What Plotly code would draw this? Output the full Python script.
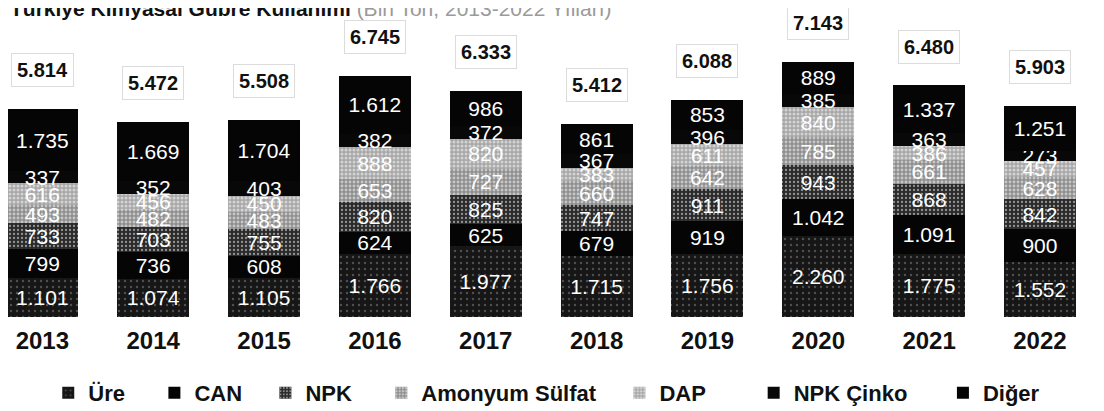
import plotly.graph_objects as go

# data (bin ton)
years = [2013, 2014, 2015, 2016, 2017, 2018, 2019, 2020, 2021, 2022]
ure = [1101, 1074, 1105, 1766, 1977, 1715, 1756, 2260, 1775, 1552]
can = [799, 736, 608, 624, 625, 679, 919, 1042, 1091, 900]
npk = [733, 703, 755, 820, 825, 747, 911, 943, 868, 842]
amonyum_sulfat = [493, 482, 483, 653, 727, 660, 642, 785, 661, 628]
dap = [616, 456, 450, 888, 820, 383, 611, 840, 386, 457]
npk_cinko = [337, 352, 403, 382, 372, 367, 396, 385, 363, 273]
diger = [1735, 1669, 1704, 1612, 986, 861, 853, 889, 1337, 1251]
totals = [5814, 5472, 5508, 6745, 6333, 5412, 6088, 7143, 6480, 5903]

# name, values, colour, texture, extra legend spacing
series = [
    ("Üre", ure, "#161616", dict(shape=".", fgcolor="#8a8a8a", size=6, solidity=0.12), 4),
    ("CAN", can, "#050505", None, 3),
    ("NPK", npk, "#2a2a2a", dict(shape=".", fgcolor="#ffffff", size=4, solidity=0.25), 4),
    ("Amonyum Sülfat", amonyum_sulfat, "#8e8e8e", dict(shape=".", fgcolor="#ffffff", size=4, solidity=0.4), 3),
    ("DAP", dap, "#a6a6a6", dict(shape=".", fgcolor="#ffffff", size=4, solidity=0.45), 7),
    ("NPK Çinko", npk_cinko, "#080808", None, 5),
    ("Diğer", diger, "#050505", None, 0),
]

sans = "Liberation Sans, Arial, sans-serif"

fig = go.Figure()

for name, vals, color, pattern, pad in series:
    marker = dict(color=color, line=dict(width=0))
    if pattern:
        marker["pattern"] = pattern
    fig.add_trace(go.Bar(
        x=years, y=vals, name=name + "\u00a0" * pad,
        marker=marker,
        width=0.65,
        texttemplate="%{y:,.0f}",
        textposition="inside",
        insidetextanchor="middle",
        textangle=0,
        textfont=dict(color="white", size=21, family=sans),
        cliponaxis=False,
    ))

# totals above each bar in a light box
for yr, tot in zip(years, totals):
    fig.add_annotation(
        x=yr, y=tot, yshift=39, yanchor="middle",
        text=f"{tot:,}".replace(",", "."),
        showarrow=False,
        font=dict(size=20, family=sans, color="#111", weight="bold"),
        bordercolor="#dcdcdc", borderwidth=1, borderpad=5,
    )

# title (partly cut off at the top in the original)
fig.add_annotation(
    x=0, xref="paper", xanchor="left",
    y=1, yref="paper", yanchor="bottom", yshift=-14,
    text="<b>Türkiye Kimyasal Gübre Kullanımı</b> <span style='color:#9a9a9a'>(Bin Ton, 2013-2022 Yılları)</span>",
    showarrow=False,
    font=dict(size=21, family=sans, color="#111"),
)

fig.update_layout(
    barmode="stack",
    width=1104, height=411,
    margin=dict(l=0, r=0, t=0, b=102),
    plot_bgcolor="white", paper_bgcolor="white",
    separators=",.",
    uniformtext=dict(minsize=21, mode="show"),
    showlegend=True,
    legend=dict(
        orientation="h", x=0.488, xanchor="center",
        y=-0.246, yanchor="middle",
        font=dict(size=22, family=sans, color="#111", weight="bold"),
        traceorder="normal",
        itemwidth=30,
    ),
    xaxis=dict(
        range=[2012.69, 2022.65],
        tickvals=years, ticktext=[f"<b>{y}</b>" for y in years],
        tickfont=dict(size=24, family=sans, color="#111"),
        ticks="", showline=False, showgrid=False, zeroline=False,
        ticklabelstandoff=7,
    ),
    yaxis=dict(range=[0, 8650], visible=False, showgrid=False),
)

fig.write_html("out.html")
